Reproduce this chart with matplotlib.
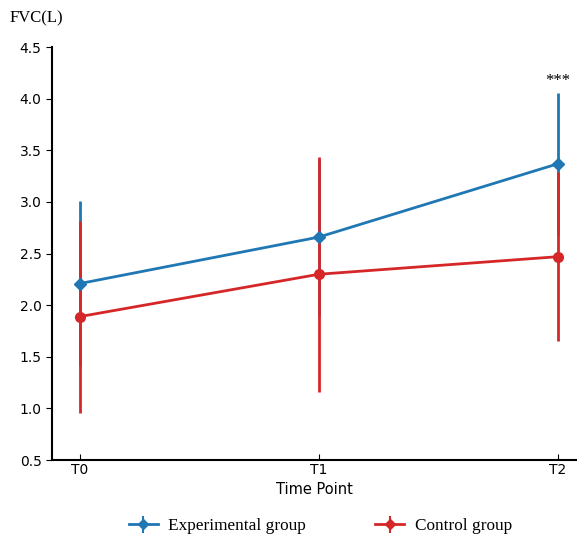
import matplotlib.pyplot as plt

# данные
time_points = ['T0', 'T1', 'T2']
exp_mean = [2.21, 2.66, 3.37]
exp_err = [0.80, 0.75, 0.69]
ctrl_mean = [1.89, 2.30, 2.47]
ctrl_err = [0.93, 1.14, 0.82]

blue = '#1f77b4'
red = '#d62728'

fig = plt.figure(figsize=(5.77, 5.35), dpi=100)
ax = fig.add_axes([0.090, 0.140, 0.910, 0.772])
x = list(range(len(time_points)))

# сначала вертикальные планки погрешностей
ax.errorbar(x, exp_mean, yerr=exp_err, fmt='none', ecolor=blue, elinewidth=2, zorder=2)
ax.errorbar(x, ctrl_mean, yerr=ctrl_err, fmt='none', ecolor=red, elinewidth=2, zorder=3)
# линии со значками поверх
ax.plot(x, ctrl_mean, color=red, lw=2, marker='o', ms=7, zorder=4)
ax.plot(x, exp_mean, color=blue, lw=2, marker='D', ms=6.5, zorder=5)

ax.set_xlim(-0.117, 2.08)
ax.set_ylim(0.5, 4.5)
ax.set_xticks(x)
ax.set_xticklabels(time_points)
ax.set_yticks([0.5, 1.0, 1.5, 2.0, 2.5, 3.0, 3.5, 4.0, 4.5])
ax.tick_params(axis='x', direction='in', length=4, labelsize=10, pad=2)
ax.tick_params(axis='y', direction='out', length=4, labelsize=10)
ax.spines['top'].set_visible(False)
ax.spines['right'].set_visible(False)
ax.spines['left'].set_linewidth(1.5)
ax.spines['bottom'].set_linewidth(1.5)
ax.set_xlabel('Time Point', fontsize=10.5, labelpad=4)

fig.text(0.017, 0.966, 'FVC(L)', family='Liberation Serif', fontsize=12, va='center', ha='left')
ax.text(2, 4.17, '***', family='Liberation Serif', fontsize=12, ha='center', va='center')

# легенда внизу (значки в виде планок погрешностей)
h1 = ax.errorbar([], [], yerr=[], color=blue, lw=2, marker='D', ms=5.5, elinewidth=1.5)
h2 = ax.errorbar([], [], yerr=[], color=red, lw=2, marker='D', ms=5.5, elinewidth=1.5)
fig.legend([h1, h2], ['Experimental group', 'Control group'], loc='center',
           bbox_to_anchor=(0.555, 0.016), ncol=2, frameon=False, columnspacing=4.0,
           handlelength=1.7, handletextpad=0.6,
           prop={'family': 'Liberation Serif', 'size': 12.4})

fig.savefig('out.png', dpi=100)
